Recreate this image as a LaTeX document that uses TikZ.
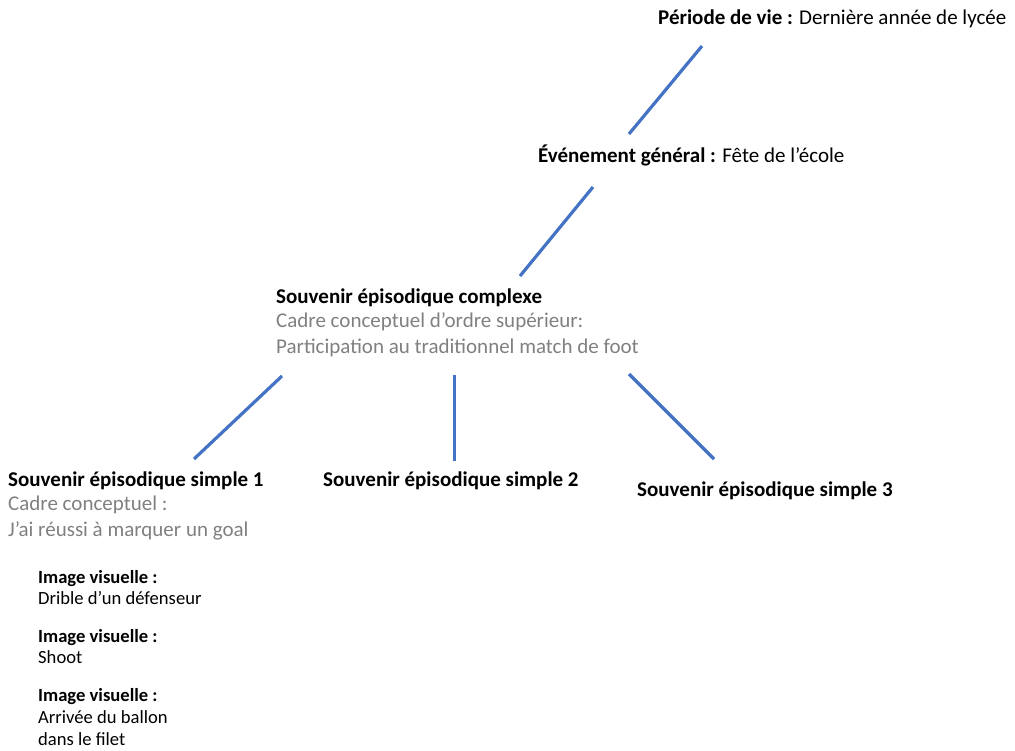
\documentclass[tikz,border=0pt]{standalone}
\usepackage{fontspec}
\setmainfont{Carlito}
\definecolor{linkblue}{RGB}{68,114,196}
\definecolor{notegray}{RGB}{128,128,128}
\begin{document}
\begin{tikzpicture}[x=1pt,y=-1pt,
  big/.style={anchor=base west,inner sep=0pt,font=\fontsize{21}{25}\selectfont},
  small/.style={anchor=base west,inner sep=0pt,font=\fontsize{18.6}{22}\selectfont},
  grey/.style={big,text=notegray},
  link/.style={draw=linkblue,line width=3.2pt}]
\useasboundingbox (0,0) rectangle (1015,751);
% levels of the hierarchy
\node[big] (periode) at (658,25) {\textbf{Période de vie :} Dernière année de lycée};
\node[big] (evenement) at (538,163) {\textbf{Événement général :} Fête de l’école};
\node[big] (complexe) at (276,304) {\textbf{Souvenir épisodique complexe}};
\node[grey] (cadreA) at (276,328) {Cadre conceptuel d’ordre supérieur:};
\node[grey] (cadreB) at (276,353) {Participation au traditionnel match de foot};
\node[big] (simple1) at (8,486) {\textbf{Souvenir épisodique simple 1}};
\node[grey] (cadreC) at (8,510) {Cadre conceptuel :};
\node[grey] (cadreD) at (8,536) {J’ai réussi à marquer un goal};
\node[big] (simple2) at (323,486) {\textbf{Souvenir épisodique simple 2}};
\node[big] (simple3) at (637,496) {\textbf{Souvenir épisodique simple 3}};
% visual images
\node[small] (imgA) at (38,583) {\textbf{Image visuelle :}};
\node[small] (imgAtxt) at (38,604) {Drible d’un défenseur};
\node[small] (imgB) at (38,642) {\textbf{Image visuelle :}};
\node[small] (imgBtxt) at (38,663) {Shoot};
\node[small] (imgC) at (38,701) {\textbf{Image visuelle :}};
\node[small] (imgCtxt) at (38,723) {Arrivée du ballon};
\node[small] (imgCtxtb) at (38,745) {dans le filet};
% connector end points
\coordinate (p1) at (702,46);  \coordinate (e1) at (629,134);
\coordinate (e2) at (593,187); \coordinate (c1) at (520,276);
\coordinate (c2) at (282,376); \coordinate (s1) at (194,459);
\coordinate (c3) at (454.5,375); \coordinate (s2) at (454.5,461);
\coordinate (c4) at (629,374); \coordinate (s3) at (714,459);
\draw[link] (p1) -- (e1);
\draw[link] (e2) -- (c1);
\draw[link] (c2) -- (s1);
\draw[link] (c3) -- (s2);
\draw[link] (c4) -- (s3);
\end{tikzpicture}
\end{document}
